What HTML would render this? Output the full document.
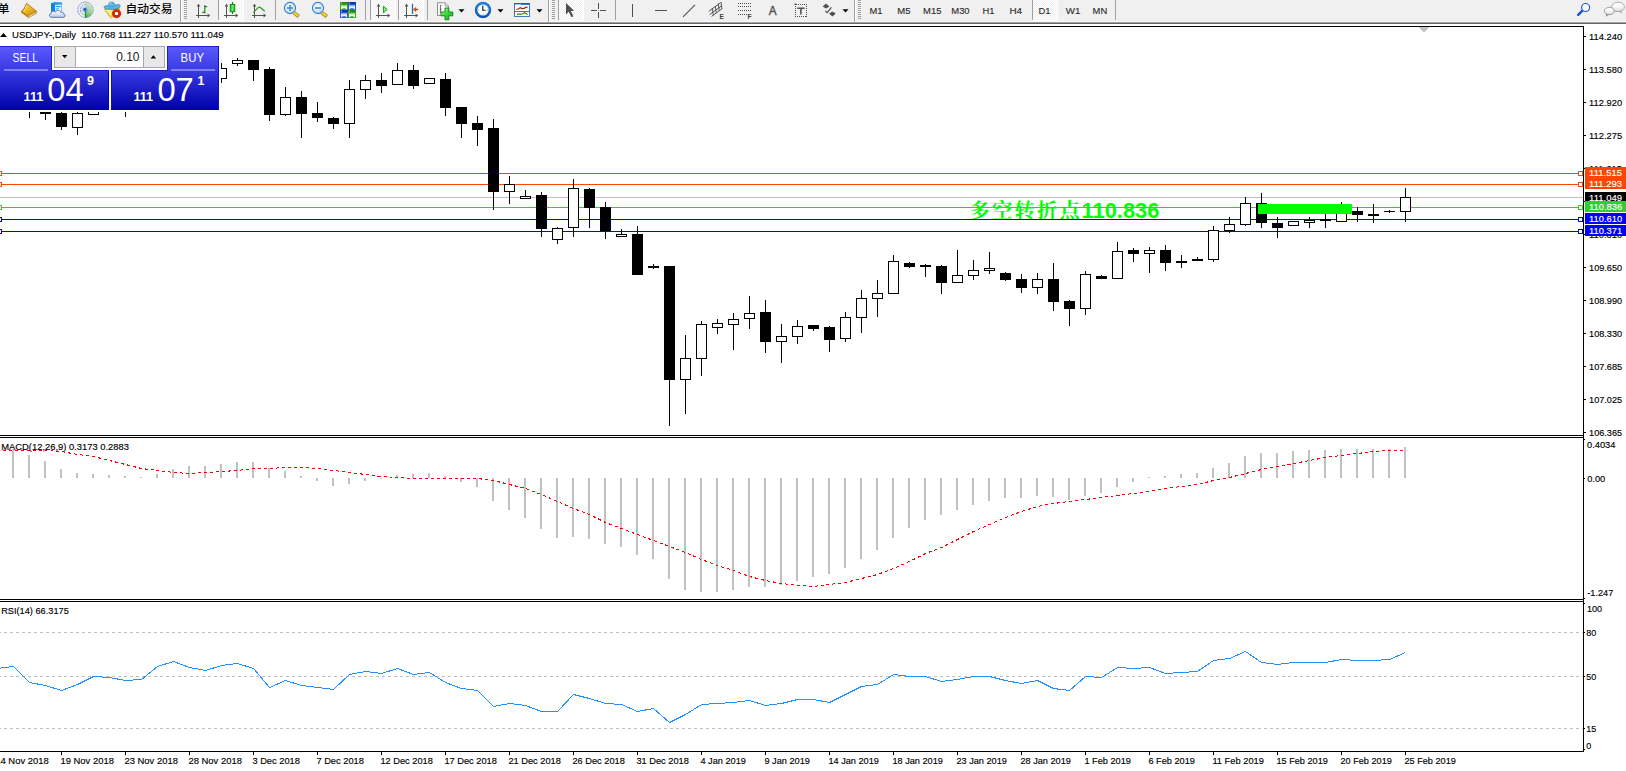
<!DOCTYPE html>
<html lang="zh"><head><meta charset="utf-8"><title>USDJPY Daily</title>
<style>
html,body{margin:0;padding:0;background:#fff;}
body{width:1626px;height:771px;position:relative;overflow:hidden;font-family:"Liberation Sans","Noto Sans CJK SC",sans-serif;}
svg{display:block}
svg text{white-space:pre}
</style></head><body>
<svg id="chart" width="1626" height="771" viewBox="0 0 1626 771" style="position:absolute;left:0;top:0" font-family='"Liberation Sans", sans-serif'>
<g shape-rendering="crispEdges">
<rect x="0" y="26" width="1584" height="1" fill="#000" />
<rect x="1583" y="26" width="1" height="726" fill="#000" />
<rect x="0" y="435" width="1584" height="1" fill="#000" />
<rect x="0" y="437" width="1584" height="1" fill="#000" />
<rect x="0" y="599" width="1584" height="1" fill="#000" />
<rect x="0" y="601" width="1584" height="1" fill="#000" />
<rect x="0" y="751" width="1584" height="1" fill="#000" />
<rect x="1584" y="36" width="2" height="1" fill="#000" />
<rect x="1584" y="69" width="2" height="1" fill="#000" />
<rect x="1584" y="102" width="2" height="1" fill="#000" />
<rect x="1584" y="135" width="2" height="1" fill="#000" />
<rect x="1584" y="168" width="2" height="1" fill="#000" />
<rect x="1584" y="201" width="2" height="1" fill="#000" />
<rect x="1584" y="234" width="2" height="1" fill="#000" />
<rect x="1584" y="267" width="2" height="1" fill="#000" />
<rect x="1584" y="300" width="2" height="1" fill="#000" />
<rect x="1584" y="333" width="2" height="1" fill="#000" />
<rect x="1584" y="366" width="2" height="1" fill="#000" />
<rect x="1584" y="399" width="2" height="1" fill="#000" />
<rect x="1584" y="432" width="2" height="1" fill="#000" />
<rect x="1584" y="439" width="1" height="1" fill="#000" />
<rect x="1584" y="478" width="1" height="1" fill="#000" />
<rect x="1584" y="598" width="1" height="1" fill="#000" />
<rect x="1584" y="603" width="1" height="1" fill="#000" />
<rect x="1584" y="632" width="1" height="1" fill="#000" />
<rect x="1584" y="676" width="1" height="1" fill="#000" />
<rect x="1584" y="728" width="1" height="1" fill="#000" />
<rect x="1584" y="749" width="1" height="1" fill="#000" />
<rect x="61" y="752" width="1" height="3" fill="#000" />
<rect x="125" y="752" width="1" height="3" fill="#000" />
<rect x="189" y="752" width="1" height="3" fill="#000" />
<rect x="253" y="752" width="1" height="3" fill="#000" />
<rect x="317" y="752" width="1" height="3" fill="#000" />
<rect x="381" y="752" width="1" height="3" fill="#000" />
<rect x="445" y="752" width="1" height="3" fill="#000" />
<rect x="509" y="752" width="1" height="3" fill="#000" />
<rect x="573" y="752" width="1" height="3" fill="#000" />
<rect x="637" y="752" width="1" height="3" fill="#000" />
<rect x="701" y="752" width="1" height="3" fill="#000" />
<rect x="765" y="752" width="1" height="3" fill="#000" />
<rect x="829" y="752" width="1" height="3" fill="#000" />
<rect x="893" y="752" width="1" height="3" fill="#000" />
<rect x="957" y="752" width="1" height="3" fill="#000" />
<rect x="1021" y="752" width="1" height="3" fill="#000" />
<rect x="1085" y="752" width="1" height="3" fill="#000" />
<rect x="1149" y="752" width="1" height="3" fill="#000" />
<rect x="1213" y="752" width="1" height="3" fill="#000" />
<rect x="1277" y="752" width="1" height="3" fill="#000" />
<rect x="1341" y="752" width="1" height="3" fill="#000" />
<rect x="1405" y="752" width="1" height="3" fill="#000" />
<polygon points="1418.5,27 1429.5,27 1424,32.5" fill="#c0c0c0" shape-rendering="auto"/>
</g>
<text x="969.5" y="218" fill="#00ff00" font-size="21.3" font-weight="bold"><tspan font-family='"Liberation Serif","Noto Serif CJK SC",serif' font-size="20.4" font-weight="700" textLength="110.5" lengthAdjust="spacing">多空转折点</tspan><tspan x="1081.5" textLength="78" lengthAdjust="spacingAndGlyphs">110.836</tspan></text>
<g shape-rendering="crispEdges">
<rect x="0" y="173" width="1583" height="1" fill="#ff4500" />
<rect x="0" y="184" width="1583" height="1" fill="#ff4500" />
<rect x="0" y="197" width="1583" height="1" fill="#c0c0c0" />
<rect x="0" y="207" width="1583" height="1" fill="#32cd32" />
<rect x="0" y="219" width="1583" height="1" fill="#0000ff" />
<rect x="0" y="231" width="1583" height="1" fill="#0000ff" />
<rect x="29" y="100" width="1" height="18" fill="#000" />
<rect x="24" y="100" width="11" height="5" fill="#000" />
<rect x="45" y="100" width="1" height="20" fill="#000" />
<rect x="40" y="100" width="11" height="14" fill="#000" />
<rect x="61" y="100" width="1" height="30" fill="#000" />
<rect x="56" y="113" width="11" height="14" fill="#000" />
<rect x="77" y="100" width="1" height="35" fill="#000" />
<rect x="72" y="113" width="11" height="15" fill="#000" />
<rect x="73" y="114" width="9" height="13" fill="#fff" />
<rect x="93" y="100" width="1" height="15" fill="#000" />
<rect x="88" y="100" width="11" height="15" fill="#000" />
<rect x="89" y="101" width="9" height="13" fill="#fff" />
<rect x="125" y="100" width="1" height="17" fill="#000" />
<rect x="120" y="100" width="11" height="5" fill="#000" />
<rect x="221" y="63" width="1" height="20" fill="#000" />
<rect x="216" y="68" width="11" height="11" fill="#000" />
<rect x="217" y="69" width="9" height="9" fill="#fff" />
<rect x="237" y="58" width="1" height="8" fill="#000" />
<rect x="232" y="60" width="11" height="4" fill="#000" />
<rect x="233" y="61" width="9" height="2" fill="#fff" />
<rect x="253" y="60" width="1" height="21" fill="#000" />
<rect x="248" y="60" width="11" height="10" fill="#000" />
<rect x="269" y="67" width="1" height="54" fill="#000" />
<rect x="264" y="69" width="11" height="46" fill="#000" />
<rect x="285" y="87" width="1" height="29" fill="#000" />
<rect x="280" y="97" width="11" height="18" fill="#000" />
<rect x="281" y="98" width="9" height="16" fill="#fff" />
<rect x="301" y="91" width="1" height="47" fill="#000" />
<rect x="296" y="97" width="11" height="17" fill="#000" />
<rect x="317" y="102" width="1" height="20" fill="#000" />
<rect x="312" y="113" width="11" height="5" fill="#000" />
<rect x="333" y="117" width="1" height="12" fill="#000" />
<rect x="328" y="118" width="11" height="6" fill="#000" />
<rect x="349" y="80" width="1" height="58" fill="#000" />
<rect x="344" y="89" width="11" height="35" fill="#000" />
<rect x="345" y="90" width="9" height="33" fill="#fff" />
<rect x="365" y="75" width="1" height="24" fill="#000" />
<rect x="360" y="80" width="11" height="10" fill="#000" />
<rect x="361" y="81" width="9" height="8" fill="#fff" />
<rect x="381" y="73" width="1" height="20" fill="#000" />
<rect x="376" y="80" width="11" height="6" fill="#000" />
<rect x="397" y="63" width="1" height="22" fill="#000" />
<rect x="392" y="70" width="11" height="15" fill="#000" />
<rect x="393" y="71" width="9" height="13" fill="#fff" />
<rect x="413" y="65" width="1" height="24" fill="#000" />
<rect x="408" y="70" width="11" height="16" fill="#000" />
<rect x="429" y="78" width="1" height="6" fill="#000" />
<rect x="424" y="78" width="11" height="6" fill="#000" />
<rect x="425" y="79" width="9" height="4" fill="#fff" />
<rect x="445" y="73" width="1" height="43" fill="#000" />
<rect x="440" y="79" width="11" height="29" fill="#000" />
<rect x="461" y="107" width="1" height="31" fill="#000" />
<rect x="456" y="107" width="11" height="17" fill="#000" />
<rect x="477" y="116" width="1" height="30" fill="#000" />
<rect x="472" y="123" width="11" height="7" fill="#000" />
<rect x="493" y="119" width="1" height="91" fill="#000" />
<rect x="488" y="128" width="11" height="64" fill="#000" />
<rect x="509" y="176" width="1" height="28" fill="#000" />
<rect x="504" y="184" width="11" height="8" fill="#000" />
<rect x="505" y="185" width="9" height="6" fill="#fff" />
<rect x="525" y="190" width="1" height="9" fill="#000" />
<rect x="520" y="196" width="11" height="3" fill="#000" />
<rect x="521" y="197" width="9" height="1" fill="#fff" />
<rect x="541" y="192" width="1" height="45" fill="#000" />
<rect x="536" y="195" width="11" height="34" fill="#000" />
<rect x="557" y="227" width="1" height="17" fill="#000" />
<rect x="552" y="228" width="11" height="12" fill="#000" />
<rect x="553" y="229" width="9" height="10" fill="#fff" />
<rect x="573" y="179" width="1" height="58" fill="#000" />
<rect x="568" y="188" width="11" height="40" fill="#000" />
<rect x="569" y="189" width="9" height="38" fill="#fff" />
<rect x="589" y="188" width="1" height="40" fill="#000" />
<rect x="584" y="189" width="11" height="19" fill="#000" />
<rect x="605" y="202" width="1" height="37" fill="#000" />
<rect x="600" y="207" width="11" height="24" fill="#000" />
<rect x="621" y="229" width="1" height="8" fill="#000" />
<rect x="616" y="234" width="11" height="3" fill="#000" />
<rect x="617" y="235" width="9" height="1" fill="#fff" />
<rect x="637" y="226" width="1" height="49" fill="#000" />
<rect x="632" y="234" width="11" height="41" fill="#000" />
<rect x="653" y="264" width="1" height="5" fill="#000" />
<rect x="648" y="266" width="11" height="2" fill="#000" />
<rect x="669" y="266" width="1" height="160" fill="#000" />
<rect x="664" y="266" width="11" height="114" fill="#000" />
<rect x="685" y="335" width="1" height="79" fill="#000" />
<rect x="680" y="358" width="11" height="22" fill="#000" />
<rect x="681" y="359" width="9" height="20" fill="#fff" />
<rect x="701" y="321" width="1" height="55" fill="#000" />
<rect x="696" y="324" width="11" height="35" fill="#000" />
<rect x="697" y="325" width="9" height="33" fill="#fff" />
<rect x="717" y="319" width="1" height="15" fill="#000" />
<rect x="712" y="323" width="11" height="5" fill="#000" />
<rect x="713" y="324" width="9" height="3" fill="#fff" />
<rect x="733" y="313" width="1" height="37" fill="#000" />
<rect x="728" y="319" width="11" height="6" fill="#000" />
<rect x="729" y="320" width="9" height="4" fill="#fff" />
<rect x="749" y="296" width="1" height="33" fill="#000" />
<rect x="744" y="313" width="11" height="6" fill="#000" />
<rect x="745" y="314" width="9" height="4" fill="#fff" />
<rect x="765" y="300" width="1" height="53" fill="#000" />
<rect x="760" y="312" width="11" height="30" fill="#000" />
<rect x="781" y="324" width="1" height="39" fill="#000" />
<rect x="776" y="336" width="11" height="6" fill="#000" />
<rect x="777" y="337" width="9" height="4" fill="#fff" />
<rect x="797" y="320" width="1" height="24" fill="#000" />
<rect x="792" y="326" width="11" height="11" fill="#000" />
<rect x="793" y="327" width="9" height="9" fill="#fff" />
<rect x="813" y="325" width="1" height="6" fill="#000" />
<rect x="808" y="325" width="11" height="4" fill="#000" />
<rect x="829" y="326" width="1" height="26" fill="#000" />
<rect x="824" y="327" width="11" height="13" fill="#000" />
<rect x="845" y="312" width="1" height="30" fill="#000" />
<rect x="840" y="317" width="11" height="22" fill="#000" />
<rect x="841" y="318" width="9" height="20" fill="#fff" />
<rect x="861" y="290" width="1" height="43" fill="#000" />
<rect x="856" y="298" width="11" height="20" fill="#000" />
<rect x="857" y="299" width="9" height="18" fill="#fff" />
<rect x="877" y="280" width="1" height="37" fill="#000" />
<rect x="872" y="293" width="11" height="6" fill="#000" />
<rect x="873" y="294" width="9" height="4" fill="#fff" />
<rect x="893" y="255" width="1" height="39" fill="#000" />
<rect x="888" y="261" width="11" height="33" fill="#000" />
<rect x="889" y="262" width="9" height="31" fill="#fff" />
<rect x="909" y="262" width="1" height="6" fill="#000" />
<rect x="904" y="263" width="11" height="4" fill="#000" />
<rect x="925" y="264" width="1" height="13" fill="#000" />
<rect x="920" y="265" width="11" height="2" fill="#000" />
<rect x="941" y="265" width="1" height="29" fill="#000" />
<rect x="936" y="266" width="11" height="17" fill="#000" />
<rect x="957" y="250" width="1" height="33" fill="#000" />
<rect x="952" y="275" width="11" height="8" fill="#000" />
<rect x="953" y="276" width="9" height="6" fill="#fff" />
<rect x="973" y="260" width="1" height="20" fill="#000" />
<rect x="968" y="270" width="11" height="6" fill="#000" />
<rect x="969" y="271" width="9" height="4" fill="#fff" />
<rect x="989" y="252" width="1" height="22" fill="#000" />
<rect x="984" y="268" width="11" height="3" fill="#000" />
<rect x="985" y="269" width="9" height="1" fill="#fff" />
<rect x="1005" y="272" width="1" height="9" fill="#000" />
<rect x="1000" y="273" width="11" height="7" fill="#000" />
<rect x="1021" y="274" width="1" height="19" fill="#000" />
<rect x="1016" y="279" width="11" height="9" fill="#000" />
<rect x="1037" y="273" width="1" height="21" fill="#000" />
<rect x="1032" y="279" width="11" height="9" fill="#000" />
<rect x="1033" y="280" width="9" height="7" fill="#fff" />
<rect x="1053" y="263" width="1" height="48" fill="#000" />
<rect x="1048" y="279" width="11" height="23" fill="#000" />
<rect x="1069" y="300" width="1" height="26" fill="#000" />
<rect x="1064" y="301" width="11" height="8" fill="#000" />
<rect x="1085" y="271" width="1" height="44" fill="#000" />
<rect x="1080" y="274" width="11" height="35" fill="#000" />
<rect x="1081" y="275" width="9" height="33" fill="#fff" />
<rect x="1101" y="275" width="1" height="4" fill="#000" />
<rect x="1096" y="276" width="11" height="3" fill="#000" />
<rect x="1117" y="242" width="1" height="37" fill="#000" />
<rect x="1112" y="251" width="11" height="28" fill="#000" />
<rect x="1113" y="252" width="9" height="26" fill="#fff" />
<rect x="1133" y="248" width="1" height="14" fill="#000" />
<rect x="1128" y="250" width="11" height="4" fill="#000" />
<rect x="1149" y="247" width="1" height="26" fill="#000" />
<rect x="1144" y="250" width="11" height="4" fill="#000" />
<rect x="1145" y="251" width="9" height="2" fill="#fff" />
<rect x="1165" y="245" width="1" height="26" fill="#000" />
<rect x="1160" y="250" width="11" height="13" fill="#000" />
<rect x="1181" y="255" width="1" height="13" fill="#000" />
<rect x="1176" y="261" width="11" height="2" fill="#000" />
<rect x="1197" y="257" width="1" height="4" fill="#000" />
<rect x="1192" y="259" width="11" height="2" fill="#000" />
<rect x="1213" y="226" width="1" height="36" fill="#000" />
<rect x="1208" y="230" width="11" height="30" fill="#000" />
<rect x="1209" y="231" width="9" height="28" fill="#fff" />
<rect x="1229" y="217" width="1" height="16" fill="#000" />
<rect x="1224" y="224" width="11" height="7" fill="#000" />
<rect x="1225" y="225" width="9" height="5" fill="#fff" />
<rect x="1245" y="197" width="1" height="29" fill="#000" />
<rect x="1240" y="203" width="11" height="22" fill="#000" />
<rect x="1241" y="204" width="9" height="20" fill="#fff" />
<rect x="1261" y="193" width="1" height="35" fill="#000" />
<rect x="1256" y="203" width="11" height="20" fill="#000" />
<rect x="1277" y="217" width="1" height="21" fill="#000" />
<rect x="1272" y="223" width="11" height="5" fill="#000" />
<rect x="1293" y="221" width="1" height="5" fill="#000" />
<rect x="1288" y="221" width="11" height="5" fill="#000" />
<rect x="1289" y="222" width="9" height="3" fill="#fff" />
<rect x="1309" y="217" width="1" height="11" fill="#000" />
<rect x="1304" y="220" width="11" height="3" fill="#000" />
<rect x="1305" y="221" width="9" height="1" fill="#fff" />
<rect x="1325" y="208" width="1" height="20" fill="#000" />
<rect x="1320" y="219" width="11" height="2" fill="#000" />
<rect x="1341" y="202" width="1" height="20" fill="#000" />
<rect x="1336" y="205" width="11" height="17" fill="#000" />
<rect x="1337" y="206" width="9" height="15" fill="#fff" />
<rect x="1357" y="207" width="1" height="15" fill="#000" />
<rect x="1352" y="211" width="11" height="4" fill="#000" />
<rect x="1373" y="204" width="1" height="19" fill="#000" />
<rect x="1368" y="214" width="11" height="2" fill="#000" />
<rect x="1389" y="210" width="1" height="3" fill="#000" />
<rect x="1384" y="211" width="11" height="1" fill="#000" />
<rect x="1405" y="188" width="1" height="34" fill="#000" />
<rect x="1400" y="197" width="11" height="15" fill="#000" />
<rect x="1401" y="198" width="9" height="13" fill="#fff" />
<rect x="1258" y="204" width="94" height="10" fill="#00ff00" />
<rect x="1578.5" y="171.5" width="4" height="4" fill="#fff" stroke="#ff4500" stroke-width="1"/>
<rect x="-2.5" y="171.5" width="4" height="4" fill="#fff" stroke="#ff4500" stroke-width="1"/>
<rect x="1578.5" y="182.5" width="4" height="4" fill="#fff" stroke="#ff4500" stroke-width="1"/>
<rect x="-2.5" y="182.5" width="4" height="4" fill="#fff" stroke="#ff4500" stroke-width="1"/>
<rect x="1578.5" y="205.5" width="4" height="4" fill="#fff" stroke="#32cd32" stroke-width="1"/>
<rect x="-2.5" y="205.5" width="4" height="4" fill="#fff" stroke="#32cd32" stroke-width="1"/>
<rect x="1578.5" y="217.5" width="4" height="4" fill="#fff" stroke="#0000ff" stroke-width="1"/>
<rect x="-2.5" y="217.5" width="4" height="4" fill="#fff" stroke="#0000ff" stroke-width="1"/>
<rect x="1578.5" y="229.5" width="4" height="4" fill="#fff" stroke="#0000ff" stroke-width="1"/>
<rect x="-2.5" y="229.5" width="4" height="4" fill="#fff" stroke="#0000ff" stroke-width="1"/>
<rect x="12" y="449" width="2" height="29" fill="#c0c0c0" />
<rect x="28" y="455" width="2" height="23" fill="#c0c0c0" />
<rect x="44" y="461" width="2" height="17" fill="#c0c0c0" />
<rect x="60" y="469" width="2" height="9" fill="#c0c0c0" />
<rect x="76" y="473" width="2" height="5" fill="#c0c0c0" />
<rect x="92" y="474" width="2" height="4" fill="#c0c0c0" />
<rect x="108" y="475" width="2" height="3" fill="#c0c0c0" />
<rect x="124" y="476" width="2" height="2" fill="#c0c0c0" />
<rect x="140" y="477" width="2" height="1" fill="#c0c0c0" />
<rect x="156" y="474" width="2" height="4" fill="#c0c0c0" />
<rect x="172" y="469" width="2" height="9" fill="#c0c0c0" />
<rect x="188" y="466" width="2" height="12" fill="#c0c0c0" />
<rect x="204" y="466" width="2" height="12" fill="#c0c0c0" />
<rect x="220" y="464" width="2" height="14" fill="#c0c0c0" />
<rect x="236" y="462" width="2" height="16" fill="#c0c0c0" />
<rect x="252" y="462" width="2" height="16" fill="#c0c0c0" />
<rect x="268" y="468" width="2" height="10" fill="#c0c0c0" />
<rect x="284" y="471" width="2" height="7" fill="#c0c0c0" />
<rect x="300" y="476" width="2" height="2" fill="#c0c0c0" />
<rect x="316" y="478" width="2" height="3" fill="#c0c0c0" />
<rect x="332" y="478" width="2" height="8" fill="#c0c0c0" />
<rect x="348" y="478" width="2" height="6" fill="#c0c0c0" />
<rect x="364" y="478" width="2" height="3" fill="#c0c0c0" />
<rect x="380" y="478" width="2" height="1" fill="#c0c0c0" />
<rect x="396" y="475" width="2" height="3" fill="#c0c0c0" />
<rect x="412" y="474" width="2" height="4" fill="#c0c0c0" />
<rect x="428" y="473" width="2" height="5" fill="#c0c0c0" />
<rect x="444" y="476" width="2" height="2" fill="#c0c0c0" />
<rect x="460" y="478" width="2" height="4" fill="#c0c0c0" />
<rect x="476" y="478" width="2" height="9" fill="#c0c0c0" />
<rect x="492" y="478" width="2" height="23" fill="#c0c0c0" />
<rect x="508" y="478" width="2" height="32" fill="#c0c0c0" />
<rect x="524" y="478" width="2" height="40" fill="#c0c0c0" />
<rect x="540" y="478" width="2" height="51" fill="#c0c0c0" />
<rect x="556" y="478" width="2" height="60" fill="#c0c0c0" />
<rect x="572" y="478" width="2" height="59" fill="#c0c0c0" />
<rect x="588" y="478" width="2" height="61" fill="#c0c0c0" />
<rect x="604" y="478" width="2" height="66" fill="#c0c0c0" />
<rect x="620" y="478" width="2" height="69" fill="#c0c0c0" />
<rect x="636" y="478" width="2" height="77" fill="#c0c0c0" />
<rect x="652" y="478" width="2" height="81" fill="#c0c0c0" />
<rect x="668" y="478" width="2" height="101" fill="#c0c0c0" />
<rect x="684" y="478" width="2" height="112" fill="#c0c0c0" />
<rect x="700" y="478" width="2" height="114" fill="#c0c0c0" />
<rect x="716" y="478" width="2" height="114" fill="#c0c0c0" />
<rect x="732" y="478" width="2" height="112" fill="#c0c0c0" />
<rect x="748" y="478" width="2" height="109" fill="#c0c0c0" />
<rect x="764" y="478" width="2" height="109" fill="#c0c0c0" />
<rect x="780" y="478" width="2" height="107" fill="#c0c0c0" />
<rect x="796" y="478" width="2" height="103" fill="#c0c0c0" />
<rect x="812" y="478" width="2" height="99" fill="#c0c0c0" />
<rect x="828" y="478" width="2" height="96" fill="#c0c0c0" />
<rect x="844" y="478" width="2" height="90" fill="#c0c0c0" />
<rect x="860" y="478" width="2" height="81" fill="#c0c0c0" />
<rect x="876" y="478" width="2" height="72" fill="#c0c0c0" />
<rect x="892" y="478" width="2" height="60" fill="#c0c0c0" />
<rect x="908" y="478" width="2" height="50" fill="#c0c0c0" />
<rect x="924" y="478" width="2" height="42" fill="#c0c0c0" />
<rect x="940" y="478" width="2" height="37" fill="#c0c0c0" />
<rect x="956" y="478" width="2" height="32" fill="#c0c0c0" />
<rect x="972" y="478" width="2" height="27" fill="#c0c0c0" />
<rect x="988" y="478" width="2" height="23" fill="#c0c0c0" />
<rect x="1004" y="478" width="2" height="20" fill="#c0c0c0" />
<rect x="1020" y="478" width="2" height="20" fill="#c0c0c0" />
<rect x="1036" y="478" width="2" height="18" fill="#c0c0c0" />
<rect x="1052" y="478" width="2" height="19" fill="#c0c0c0" />
<rect x="1068" y="478" width="2" height="22" fill="#c0c0c0" />
<rect x="1084" y="478" width="2" height="18" fill="#c0c0c0" />
<rect x="1100" y="478" width="2" height="15" fill="#c0c0c0" />
<rect x="1116" y="478" width="2" height="9" fill="#c0c0c0" />
<rect x="1132" y="478" width="2" height="4" fill="#c0c0c0" />
<rect x="1148" y="477" width="2" height="1" fill="#c0c0c0" />
<rect x="1164" y="476" width="2" height="2" fill="#c0c0c0" />
<rect x="1180" y="474" width="2" height="4" fill="#c0c0c0" />
<rect x="1196" y="473" width="2" height="5" fill="#c0c0c0" />
<rect x="1212" y="468" width="2" height="10" fill="#c0c0c0" />
<rect x="1228" y="463" width="2" height="15" fill="#c0c0c0" />
<rect x="1244" y="456" width="2" height="22" fill="#c0c0c0" />
<rect x="1260" y="453" width="2" height="25" fill="#c0c0c0" />
<rect x="1276" y="453" width="2" height="25" fill="#c0c0c0" />
<rect x="1292" y="451" width="2" height="27" fill="#c0c0c0" />
<rect x="1308" y="450" width="2" height="28" fill="#c0c0c0" />
<rect x="1324" y="450" width="2" height="28" fill="#c0c0c0" />
<rect x="1340" y="449" width="2" height="29" fill="#c0c0c0" />
<rect x="1356" y="449" width="2" height="29" fill="#c0c0c0" />
<rect x="1372" y="449" width="2" height="29" fill="#c0c0c0" />
<rect x="1388" y="449" width="2" height="29" fill="#c0c0c0" />
<rect x="1404" y="447" width="2" height="31" fill="#c0c0c0" />
</g>
<line x1="0" y1="632.5" x2="1583" y2="632.5" stroke="#c0c0c0" stroke-width="1" stroke-dasharray="3 3" stroke-dashoffset="2" shape-rendering="crispEdges"/>
<line x1="0" y1="676.5" x2="1583" y2="676.5" stroke="#c0c0c0" stroke-width="1" stroke-dasharray="3 3" stroke-dashoffset="2" shape-rendering="crispEdges"/>
<line x1="0" y1="728.5" x2="1583" y2="728.5" stroke="#c0c0c0" stroke-width="1" stroke-dasharray="3 3" stroke-dashoffset="2" shape-rendering="crispEdges"/>
<polyline points="-3.5,450.5 13.5,450.5 29.5,450.5 45.5,450.5 61.5,451.5 77.5,454.5 93.5,456.5 109.5,460.5 125.5,464.5 141.5,468.5 157.5,470.5 173.5,472.5 189.5,473.5 205.5,472.5 221.5,471.5 237.5,470.5 253.5,468.5 269.5,468.5 285.5,467.5 301.5,467.5 317.5,468.5 333.5,470.5 349.5,472.5 365.5,474.5 381.5,476.5 397.5,477.5 413.5,478.5 429.5,478.5 445.5,478.5 461.5,478.5 477.5,478.5 493.5,480.5 509.5,484.5 525.5,488.5 541.5,494.5 557.5,501.5 573.5,508.5 589.5,514.5 605.5,522.5 621.5,528.5 637.5,534.5 653.5,540.5 669.5,546.5 685.5,552.5 701.5,559.5 717.5,565.5 733.5,570.5 749.5,576.5 765.5,580.5 781.5,583.5 797.5,585.5 813.5,586.5 829.5,584.5 845.5,582.5 861.5,578.5 877.5,574.5 893.5,568.5 909.5,561.5 925.5,553.5 941.5,547.5 957.5,539.5 973.5,531.5 989.5,524.5 1005.5,517.5 1021.5,511.5 1037.5,506.5 1053.5,503.5 1069.5,501.5 1085.5,499.5 1101.5,497.5 1117.5,495.5 1133.5,493.5 1149.5,491.5 1165.5,488.5 1181.5,486.5 1197.5,484.5 1213.5,480.5 1229.5,477.5 1245.5,473.5 1261.5,469.5 1277.5,466.5 1293.5,463.5 1309.5,460.5 1325.5,457.5 1341.5,455.5 1357.5,453.5 1373.5,451.5 1389.5,450.5 1405.5,450.5" fill="none" stroke="#ff0000" stroke-width="1" stroke-dasharray="3 3" shape-rendering="crispEdges"/>
<polyline points="-3.5,668.5 13.5,666.5 29.5,682.5 45.5,685.5 61.5,690.5 77.5,684.5 93.5,676.5 109.5,677.5 125.5,680.5 141.5,679.5 157.5,666.5 173.5,661.5 189.5,667.5 205.5,670.5 221.5,665.5 237.5,663.5 253.5,668.5 269.5,687.5 285.5,680.5 301.5,685.5 317.5,687.5 333.5,689.5 349.5,674.5 365.5,671.5 381.5,673.5 397.5,668.5 413.5,674.5 429.5,672.5 445.5,682.5 461.5,688.5 477.5,690.5 493.5,706.5 509.5,703.5 525.5,705.5 541.5,711.5 557.5,711.5 573.5,694.5 589.5,698.5 605.5,703.5 621.5,704.5 637.5,711.5 653.5,708.5 669.5,722.5 685.5,714.5 701.5,704.5 717.5,703.5 733.5,702.5 749.5,700.5 765.5,705.5 781.5,703.5 797.5,699.5 813.5,699.5 829.5,702.5 845.5,694.5 861.5,686.5 877.5,684.5 893.5,674.5 909.5,676.5 925.5,676.5 941.5,681.5 957.5,679.5 973.5,676.5 989.5,676.5 1005.5,680.5 1021.5,683.5 1037.5,680.5 1053.5,688.5 1069.5,690.5 1085.5,676.5 1101.5,677.5 1117.5,667.5 1133.5,668.5 1149.5,667.5 1165.5,673.5 1181.5,672.5 1197.5,671.5 1213.5,660.5 1229.5,658.5 1245.5,651.5 1261.5,662.5 1277.5,664.5 1293.5,662.5 1309.5,662.5 1325.5,662.5 1341.5,659.5 1357.5,660.5 1373.5,660.5 1389.5,659.5 1405.5,652.5" fill="none" stroke="#1e90ff" stroke-width="1" shape-rendering="crispEdges"/>
<text x="12" y="38" fill="#000" stroke="#000" stroke-width="0.15" font-size="9.8" textLength="211.6" lengthAdjust="spacingAndGlyphs" text-anchor="start" >USDJPY-,Daily&#160;&#160;110.768 111.227 110.570 111.049</text>
<polygon points="0,37 3.5,33 7,37" fill="#000"/>
<text x="1589.1" y="40" fill="#000" stroke="#000" stroke-width="0.15" font-size="9.8" textLength="33" lengthAdjust="spacingAndGlyphs" text-anchor="start" >114.240</text>
<text x="1589.1" y="73" fill="#000" stroke="#000" stroke-width="0.15" font-size="9.8" textLength="33" lengthAdjust="spacingAndGlyphs" text-anchor="start" >113.580</text>
<text x="1589.1" y="106" fill="#000" stroke="#000" stroke-width="0.15" font-size="9.8" textLength="33" lengthAdjust="spacingAndGlyphs" text-anchor="start" >112.920</text>
<text x="1589.1" y="139" fill="#000" stroke="#000" stroke-width="0.15" font-size="9.8" textLength="33" lengthAdjust="spacingAndGlyphs" text-anchor="start" >112.275</text>
<text x="1589.1" y="172" fill="#000" stroke="#000" stroke-width="0.15" font-size="9.8" textLength="33" lengthAdjust="spacingAndGlyphs" text-anchor="start" >111.615</text>
<text x="1589.1" y="205" fill="#000" stroke="#000" stroke-width="0.15" font-size="9.8" textLength="33" lengthAdjust="spacingAndGlyphs" text-anchor="start" >110.955</text>
<text x="1589.1" y="238" fill="#000" stroke="#000" stroke-width="0.15" font-size="9.8" textLength="33" lengthAdjust="spacingAndGlyphs" text-anchor="start" >110.310</text>
<text x="1589.1" y="271" fill="#000" stroke="#000" stroke-width="0.15" font-size="9.8" textLength="33" lengthAdjust="spacingAndGlyphs" text-anchor="start" >109.650</text>
<text x="1589.1" y="304" fill="#000" stroke="#000" stroke-width="0.15" font-size="9.8" textLength="33" lengthAdjust="spacingAndGlyphs" text-anchor="start" >108.990</text>
<text x="1589.1" y="337" fill="#000" stroke="#000" stroke-width="0.15" font-size="9.8" textLength="33" lengthAdjust="spacingAndGlyphs" text-anchor="start" >108.330</text>
<text x="1589.1" y="370" fill="#000" stroke="#000" stroke-width="0.15" font-size="9.8" textLength="33" lengthAdjust="spacingAndGlyphs" text-anchor="start" >107.685</text>
<text x="1589.1" y="403" fill="#000" stroke="#000" stroke-width="0.15" font-size="9.8" textLength="33" lengthAdjust="spacingAndGlyphs" text-anchor="start" >107.025</text>
<text x="1589.1" y="436" fill="#000" stroke="#000" stroke-width="0.15" font-size="9.8" textLength="33" lengthAdjust="spacingAndGlyphs" text-anchor="start" >106.365</text>
<rect x="1585" y="192" width="41" height="11" fill="#000" shape-rendering="crispEdges"/>
<text x="1589.1" y="201" fill="#fff" stroke="#fff" stroke-width="0.15" font-size="9.8" textLength="33" lengthAdjust="spacingAndGlyphs" text-anchor="start" >111.049</text>
<rect x="1585" y="167" width="41" height="11" fill="#ff4500" shape-rendering="crispEdges"/>
<text x="1589.1" y="176" fill="#fff" stroke="#fff" stroke-width="0.15" font-size="9.8" textLength="33" lengthAdjust="spacingAndGlyphs" text-anchor="start" >111.515</text>
<rect x="1585" y="178" width="41" height="11" fill="#ff4500" shape-rendering="crispEdges"/>
<text x="1589.1" y="187" fill="#fff" stroke="#fff" stroke-width="0.15" font-size="9.8" textLength="33" lengthAdjust="spacingAndGlyphs" text-anchor="start" >111.293</text>
<rect x="1585" y="201" width="41" height="11" fill="#32cd32" shape-rendering="crispEdges"/>
<text x="1589.1" y="210" fill="#fff" stroke="#fff" stroke-width="0.15" font-size="9.8" textLength="33" lengthAdjust="spacingAndGlyphs" text-anchor="start" >110.836</text>
<rect x="1585" y="213" width="41" height="11" fill="#0000ff" shape-rendering="crispEdges"/>
<text x="1589.1" y="222" fill="#fff" stroke="#fff" stroke-width="0.15" font-size="9.8" textLength="33" lengthAdjust="spacingAndGlyphs" text-anchor="start" >110.610</text>
<rect x="1585" y="225" width="41" height="11" fill="#0000ff" shape-rendering="crispEdges"/>
<text x="1589.1" y="234" fill="#fff" stroke="#fff" stroke-width="0.15" font-size="9.8" textLength="33" lengthAdjust="spacingAndGlyphs" text-anchor="start" >110.371</text>
<text x="1587" y="448" fill="#000" stroke="#000" stroke-width="0.15" font-size="9.8" textLength="28.4" lengthAdjust="spacingAndGlyphs" text-anchor="start" >0.4034</text>
<text x="1587.2" y="482" fill="#000" stroke="#000" stroke-width="0.15" font-size="9.8" textLength="18" lengthAdjust="spacingAndGlyphs" text-anchor="start" >0.00</text>
<text x="1587.3" y="596" fill="#000" stroke="#000" stroke-width="0.15" font-size="9.8" textLength="26" lengthAdjust="spacingAndGlyphs" text-anchor="start" >-1.247</text>
<text x="1587" y="612" fill="#000" stroke="#000" stroke-width="0.15" font-size="9.8" textLength="15.2" lengthAdjust="spacingAndGlyphs" text-anchor="start" >100</text>
<text x="1586.3" y="636" fill="#000" stroke="#000" stroke-width="0.15" font-size="9.8" textLength="10" lengthAdjust="spacingAndGlyphs" text-anchor="start" >80</text>
<text x="1586.3" y="680" fill="#000" stroke="#000" stroke-width="0.15" font-size="9.8" textLength="10" lengthAdjust="spacingAndGlyphs" text-anchor="start" >50</text>
<text x="1586.3" y="732" fill="#000" stroke="#000" stroke-width="0.15" font-size="9.8" textLength="10" lengthAdjust="spacingAndGlyphs" text-anchor="start" >15</text>
<text x="1586.3" y="749" fill="#000" stroke="#000" stroke-width="0.15" font-size="9.8" textLength="5" lengthAdjust="spacingAndGlyphs" text-anchor="start" >0</text>
<text x="1.2" y="450" fill="#000" stroke="#000" stroke-width="0.15" font-size="9.8" textLength="127.8" lengthAdjust="spacingAndGlyphs" text-anchor="start" >MACD(12,26,9) 0.3173 0.2883</text>
<text x="1.2" y="614" fill="#000" stroke="#000" stroke-width="0.15" font-size="9.8" textLength="67.6" lengthAdjust="spacingAndGlyphs" text-anchor="start" >RSI(14) 66.3175</text>
<text x="-4.8" y="764" fill="#000" stroke="#000" stroke-width="0.15" font-size="9.8" textLength="53.5" lengthAdjust="spacingAndGlyphs" text-anchor="start" >14 Nov 2018</text>
<text x="60.4" y="764" fill="#000" stroke="#000" stroke-width="0.15" font-size="9.8" textLength="53.5" lengthAdjust="spacingAndGlyphs" text-anchor="start" >19 Nov 2018</text>
<text x="124.4" y="764" fill="#000" stroke="#000" stroke-width="0.15" font-size="9.8" textLength="53.5" lengthAdjust="spacingAndGlyphs" text-anchor="start" >23 Nov 2018</text>
<text x="188.4" y="764" fill="#000" stroke="#000" stroke-width="0.15" font-size="9.8" textLength="53.5" lengthAdjust="spacingAndGlyphs" text-anchor="start" >28 Nov 2018</text>
<text x="252.4" y="764" fill="#000" stroke="#000" stroke-width="0.15" font-size="9.8" textLength="47.5" lengthAdjust="spacingAndGlyphs" text-anchor="start" >3 Dec 2018</text>
<text x="316.4" y="764" fill="#000" stroke="#000" stroke-width="0.15" font-size="9.8" textLength="47.5" lengthAdjust="spacingAndGlyphs" text-anchor="start" >7 Dec 2018</text>
<text x="380.4" y="764" fill="#000" stroke="#000" stroke-width="0.15" font-size="9.8" textLength="52.5" lengthAdjust="spacingAndGlyphs" text-anchor="start" >12 Dec 2018</text>
<text x="444.4" y="764" fill="#000" stroke="#000" stroke-width="0.15" font-size="9.8" textLength="52.5" lengthAdjust="spacingAndGlyphs" text-anchor="start" >17 Dec 2018</text>
<text x="508.4" y="764" fill="#000" stroke="#000" stroke-width="0.15" font-size="9.8" textLength="52.5" lengthAdjust="spacingAndGlyphs" text-anchor="start" >21 Dec 2018</text>
<text x="572.4" y="764" fill="#000" stroke="#000" stroke-width="0.15" font-size="9.8" textLength="52.5" lengthAdjust="spacingAndGlyphs" text-anchor="start" >26 Dec 2018</text>
<text x="636.4" y="764" fill="#000" stroke="#000" stroke-width="0.15" font-size="9.8" textLength="52.5" lengthAdjust="spacingAndGlyphs" text-anchor="start" >31 Dec 2018</text>
<text x="700.4" y="764" fill="#000" stroke="#000" stroke-width="0.15" font-size="9.8" textLength="45.5" lengthAdjust="spacingAndGlyphs" text-anchor="start" >4 Jan 2019</text>
<text x="764.4" y="764" fill="#000" stroke="#000" stroke-width="0.15" font-size="9.8" textLength="45.5" lengthAdjust="spacingAndGlyphs" text-anchor="start" >9 Jan 2019</text>
<text x="828.4" y="764" fill="#000" stroke="#000" stroke-width="0.15" font-size="9.8" textLength="50.5" lengthAdjust="spacingAndGlyphs" text-anchor="start" >14 Jan 2019</text>
<text x="892.4" y="764" fill="#000" stroke="#000" stroke-width="0.15" font-size="9.8" textLength="50.5" lengthAdjust="spacingAndGlyphs" text-anchor="start" >18 Jan 2019</text>
<text x="956.4" y="764" fill="#000" stroke="#000" stroke-width="0.15" font-size="9.8" textLength="50.5" lengthAdjust="spacingAndGlyphs" text-anchor="start" >23 Jan 2019</text>
<text x="1020.4" y="764" fill="#000" stroke="#000" stroke-width="0.15" font-size="9.8" textLength="50.5" lengthAdjust="spacingAndGlyphs" text-anchor="start" >28 Jan 2019</text>
<text x="1084.4" y="764" fill="#000" stroke="#000" stroke-width="0.15" font-size="9.8" textLength="46.5" lengthAdjust="spacingAndGlyphs" text-anchor="start" >1 Feb 2019</text>
<text x="1148.4" y="764" fill="#000" stroke="#000" stroke-width="0.15" font-size="9.8" textLength="46.5" lengthAdjust="spacingAndGlyphs" text-anchor="start" >6 Feb 2019</text>
<text x="1212.4" y="764" fill="#000" stroke="#000" stroke-width="0.15" font-size="9.8" textLength="51.5" lengthAdjust="spacingAndGlyphs" text-anchor="start" >11 Feb 2019</text>
<text x="1276.4" y="764" fill="#000" stroke="#000" stroke-width="0.15" font-size="9.8" textLength="51.5" lengthAdjust="spacingAndGlyphs" text-anchor="start" >15 Feb 2019</text>
<text x="1340.4" y="764" fill="#000" stroke="#000" stroke-width="0.15" font-size="9.8" textLength="51.5" lengthAdjust="spacingAndGlyphs" text-anchor="start" >20 Feb 2019</text>
<text x="1404.4" y="764" fill="#000" stroke="#000" stroke-width="0.15" font-size="9.8" textLength="51.5" lengthAdjust="spacingAndGlyphs" text-anchor="start" >25 Feb 2019</text>
</svg>
<svg id="tb" width="1626" height="26" viewBox="0 0 1626 26" style="position:absolute;left:0;top:0" font-family='"Liberation Sans", sans-serif'>
<defs>
<linearGradient id="gGold" x1="0" y1="0" x2="1" y2="1"><stop offset="0" stop-color="#fbe66a"/><stop offset="0.5" stop-color="#e9b61f"/><stop offset="1" stop-color="#c8860f"/></linearGradient>
<linearGradient id="gCloud" x1="0" y1="0" x2="0" y2="1"><stop offset="0" stop-color="#ffffff"/><stop offset="1" stop-color="#b9c9e6"/></linearGradient>
<linearGradient id="gCandle" x1="0" y1="0" x2="1" y2="0"><stop offset="0" stop-color="#18b018"/><stop offset="0.5" stop-color="#6cf06c"/><stop offset="1" stop-color="#18b018"/></linearGradient>
<radialGradient id="gLens" cx="0.4" cy="0.35" r="0.7"><stop offset="0" stop-color="#f4fcff"/><stop offset="1" stop-color="#b4dcf4"/></radialGradient>
<linearGradient id="gClock" x1="0" y1="0" x2="0" y2="1"><stop offset="0" stop-color="#2a8cf0"/><stop offset="1" stop-color="#0b4fb0"/></linearGradient>
<linearGradient id="gBub" x1="0" y1="0" x2="0" y2="1"><stop offset="0" stop-color="#ffffff"/><stop offset="0.45" stop-color="#fafafa"/><stop offset="1" stop-color="#d6d6e0"/></linearGradient>
<linearGradient id="gPlus" x1="0" y1="0" x2="1" y2="1"><stop offset="0" stop-color="#b0ffb0"/><stop offset="0.5" stop-color="#38d838"/><stop offset="1" stop-color="#14a814"/></linearGradient>
<linearGradient id="gHandle" x1="0" y1="0" x2="1" y2="0"><stop offset="0" stop-color="#f8e060"/><stop offset="1" stop-color="#c89010"/></linearGradient>
<pattern id="dither" width="2" height="2" patternUnits="userSpaceOnUse"><rect width="2" height="2" fill="#f0f0f0"/><rect width="1" height="1" fill="#fff"/><rect x="1" y="1" width="1" height="1" fill="#fff"/></pattern>
<linearGradient id="gSig" x1="0.2" y1="1" x2="0.5" y2="0"><stop offset="0" stop-color="#3aa83a" stop-opacity="0.95"/><stop offset="0.5" stop-color="#8cc88c" stop-opacity="0.7"/><stop offset="1" stop-color="#d8ead8" stop-opacity="0.5"/></linearGradient>
</defs>
<g shape-rendering="crispEdges">
<rect x="0" y="0" width="1626" height="22" fill="#f0f0f0"/>
<rect x="0" y="21" width="1626" height="1" fill="#f8f8f8"/>
<rect x="0" y="22" width="1626" height="1" fill="#a0a0a0"/>
<rect x="0" y="23" width="1626" height="1" fill="#696969"/>
<rect x="0" y="24" width="1626" height="2" fill="#fff"/>
<rect x="180" y="0" width="1" height="22" fill="#a0a0a0"/><rect x="181" y="0" width="1" height="22" fill="#fff"/>
<rect x="184" y="0" width="3" height="1" fill="#a0a0a0"/>
<rect x="184" y="2" width="3" height="1" fill="#a0a0a0"/>
<rect x="184" y="4" width="3" height="1" fill="#a0a0a0"/>
<rect x="184" y="6" width="3" height="1" fill="#a0a0a0"/>
<rect x="184" y="8" width="3" height="1" fill="#a0a0a0"/>
<rect x="184" y="10" width="3" height="1" fill="#a0a0a0"/>
<rect x="184" y="12" width="3" height="1" fill="#a0a0a0"/>
<rect x="184" y="14" width="3" height="1" fill="#a0a0a0"/>
<rect x="184" y="16" width="3" height="1" fill="#a0a0a0"/>
<rect x="184" y="18" width="3" height="1" fill="#a0a0a0"/>
<rect x="548" y="0" width="1" height="22" fill="#a0a0a0"/><rect x="549" y="0" width="1" height="22" fill="#fff"/>
<rect x="552" y="0" width="3" height="1" fill="#a0a0a0"/>
<rect x="552" y="2" width="3" height="1" fill="#a0a0a0"/>
<rect x="552" y="4" width="3" height="1" fill="#a0a0a0"/>
<rect x="552" y="6" width="3" height="1" fill="#a0a0a0"/>
<rect x="552" y="8" width="3" height="1" fill="#a0a0a0"/>
<rect x="552" y="10" width="3" height="1" fill="#a0a0a0"/>
<rect x="552" y="12" width="3" height="1" fill="#a0a0a0"/>
<rect x="552" y="14" width="3" height="1" fill="#a0a0a0"/>
<rect x="552" y="16" width="3" height="1" fill="#a0a0a0"/>
<rect x="552" y="18" width="3" height="1" fill="#a0a0a0"/>
<rect x="854" y="0" width="1" height="22" fill="#a0a0a0"/><rect x="855" y="0" width="1" height="22" fill="#fff"/>
<rect x="858" y="0" width="3" height="1" fill="#a0a0a0"/>
<rect x="858" y="2" width="3" height="1" fill="#a0a0a0"/>
<rect x="858" y="4" width="3" height="1" fill="#a0a0a0"/>
<rect x="858" y="6" width="3" height="1" fill="#a0a0a0"/>
<rect x="858" y="8" width="3" height="1" fill="#a0a0a0"/>
<rect x="858" y="10" width="3" height="1" fill="#a0a0a0"/>
<rect x="858" y="12" width="3" height="1" fill="#a0a0a0"/>
<rect x="858" y="14" width="3" height="1" fill="#a0a0a0"/>
<rect x="858" y="16" width="3" height="1" fill="#a0a0a0"/>
<rect x="858" y="18" width="3" height="1" fill="#a0a0a0"/>
<rect x="219" y="0" width="24" height="20" fill="url(#dither)"/>
<rect x="243" y="0" width="1" height="21" fill="#fff"/><rect x="218" y="20" width="26" height="1" fill="#fff"/>
<rect x="371" y="0" width="24" height="20" fill="url(#dither)"/>
<rect x="395" y="0" width="1" height="21" fill="#fff"/><rect x="370" y="20" width="26" height="1" fill="#fff"/>
<rect x="399" y="0" width="24" height="20" fill="url(#dither)"/>
<rect x="423" y="0" width="1" height="21" fill="#fff"/><rect x="398" y="20" width="26" height="1" fill="#fff"/>
<rect x="559" y="0" width="24" height="20" fill="url(#dither)"/>
<rect x="583" y="0" width="1" height="21" fill="#fff"/><rect x="558" y="20" width="26" height="1" fill="#fff"/>
<rect x="1033" y="0" width="24" height="20" fill="url(#dither)"/>
<rect x="1057" y="0" width="1" height="21" fill="#fff"/><rect x="1032" y="20" width="26" height="1" fill="#fff"/>
<rect x="218" y="0" width="1" height="20" fill="#a0a0a0"/>
<rect x="275" y="0" width="1" height="20" fill="#a0a0a0"/>
<rect x="365" y="0" width="1" height="20" fill="#a0a0a0"/>
<rect x="370" y="0" width="1" height="20" fill="#a0a0a0"/>
<rect x="398" y="0" width="1" height="20" fill="#a0a0a0"/>
<rect x="427" y="0" width="1" height="20" fill="#a0a0a0"/>
<rect x="558" y="0" width="1" height="20" fill="#a0a0a0"/>
<rect x="615" y="0" width="1" height="20" fill="#a0a0a0"/>
<rect x="1032" y="0" width="1" height="20" fill="#a0a0a0"/>
<rect x="1115" y="0" width="1" height="20" fill="#a0a0a0"/>
</g>
<text x="-2.6" y="13" font-size="11.6" font-weight="500" textLength="12" lengthAdjust="spacingAndGlyphs" font-family='"Liberation Sans","Noto Sans CJK SC",sans-serif' fill="#000">单</text>
<text x="125.4" y="13" font-size="11.4" font-weight="500" textLength="47.2" lengthAdjust="spacingAndGlyphs" font-family='"Liberation Sans","Noto Sans CJK SC",sans-serif' fill="#000">自动交易</text>
<g>
<path d="M26.7,2.9 L37,11.3 L36.8,13.4 L28.6,18 L21,12.6 L21,11.5 Q24.6,8.6 25.6,4.6 Z" fill="#a86c0e"/>
<polygon points="28.5,15.7 36.4,11.5 36.5,13.1 28.7,17.4" fill="#f2e8b8"/>
<path d="M28.9,16.3 L36.4,12.2" stroke="#b8861c" stroke-width="0.5" fill="none"/>
<path d="M26.9,3.9 L36,11.1 L28.3,15.3 L22.2,11.4 Q25.4,8.8 26.2,5.2 Z" fill="url(#gGold)"/>
<path d="M26.6,5.4 Q26,8.6 23.4,11.2" stroke="#fdf2a0" stroke-width="0.9" fill="none" opacity="0.9"/>
<polygon points="22,11.9 28.3,15.7 28.4,17.1 21.7,12.7" fill="#d89a16"/>
</g>
<g>
<polygon points="51,3.2 54.5,2 62,2.4 62,11 51,11.5" fill="#1e9cf0"/>
<polygon points="51,3.2 54.6,4.6 54.6,12 51,11.5" fill="#0f7fe0"/>
<polygon points="55.2,5 61.4,4.6 61.4,11 55.2,11" fill="#e8f6ff"/>
<rect x="56" y="6" width="4.6" height="1.2" fill="#1e9cf0"/>
<rect x="56" y="8.4" width="3" height="1" fill="#1e9cf0"/>
<path d="M51.6,17.3 C49,17.3 48.6,14 51.2,13.4 C51,11.2 54.2,10.4 55.4,12 C56.6,9.6 60.6,10 60.8,12.4 C62.2,11.6 64,12.4 63.6,13.8 C65.8,14 65.8,17.3 63.2,17.3 Z" fill="url(#gCloud)" stroke="#4a6cae" stroke-width="0.9"/>
</g>
<g fill="none">
<path d="M85.5,9.8 L85.5,17.7 A7.9,7.9 0 0 0 93,9.8 A7.9,7.9 0 0 0 85.5,2 Z" fill="url(#gSig)"/>
<path d="M85.5,2.1 A7.7,7.7 0 0 1 85.5,17.6" stroke="#4f8f8f" stroke-width="0.8" opacity="0.7"/>
<path d="M85.5,4.7 A5.1,5.1 0 0 1 85.5,14.9" stroke="#7fb89a" stroke-width="0.8" opacity="0.6"/>
<path d="M85.5,17.5 A7.7,7.7 0 0 1 85.5,2.1" stroke="#5580d8" stroke-width="1" stroke-dasharray="2.2 0.9" opacity="0.85"/>
<path d="M85.5,14.9 A5.1,5.1 0 0 1 85.5,4.7" stroke="#5580d8" stroke-width="1" stroke-dasharray="2 0.8" opacity="0.8"/>
<circle cx="85" cy="9.8" r="2.9" stroke="#86a6e4" stroke-width="0.7" opacity="0.7"/>
<circle cx="84.9" cy="9.6" r="1.8" fill="#2a5cd0"/>
<rect x="84.9" y="10" width="1.3" height="7.7" fill="#1ea01e"/>
</g>
<g>
<polygon points="104.4,9.2 119.8,8.6 117,13 111.6,18.1 109.6,16.6" fill="#f6d43c" stroke="#c89818" stroke-width="0.7"/>
<polygon points="105.6,9.6 113,9.4 111,15.8" fill="#fdf08c"/>
<path d="M104.2,7.5 C104,5.4 106.8,5.3 108.3,6.1 C108.5,3.2 109.6,2 111.4,2 C113.6,2 114.6,3.4 115,5.5 C116.6,4.3 120.3,4 120.2,6.1 C120.1,8.3 115.4,9.4 112,9.4 C108,9.4 104.3,8.9 104.2,7.5 Z" fill="#5cb4e8" stroke="#1f85b8" stroke-width="0.7"/>
<path d="M108.4,6.2 C110,7.4 113.4,7 115,5.6" stroke="#2f8fc4" stroke-width="0.6" fill="none"/>
<path d="M109.6,4.6 C110,3.2 111,2.8 112,2.8" stroke="#bfe6fb" stroke-width="0.9" fill="none"/>
<circle cx="116.6" cy="13.6" r="4.2" fill="#e02408"/>
<circle cx="116.6" cy="13.6" r="4.2" fill="none" stroke="#b01804" stroke-width="0.7"/>
<rect x="115" y="12.1" width="3" height="2.9" fill="#fff"/>
</g>
<g stroke="#555" stroke-width="1" fill="#555" shape-rendering="crispEdges"><line x1="198.5" y1="5" x2="198.5" y2="18"/><line x1="196" y1="15.5" x2="209" y2="15.5"/></g><polygon points="198.5,3.8 196.6,6.6 200.4,6.6" fill="#555"/><polygon points="210.2,15.5 207.6,13.6 207.6,17.4" fill="#555"/>
<g stroke="#158a15" stroke-width="1.2" fill="none"><path d="M204.8,5 V13.6 M204.8,6.6 H207.2 M202.2,12.4 H204.8"/></g>
<g stroke="#555" stroke-width="1" fill="#555" shape-rendering="crispEdges"><line x1="226.5" y1="5" x2="226.5" y2="18"/><line x1="224" y1="15.5" x2="237" y2="15.5"/></g><polygon points="226.5,3.8 224.6,6.6 228.4,6.6" fill="#555"/><polygon points="238.2,15.5 235.6,13.6 235.6,17.4" fill="#555"/>
<line x1="232.5" y1="2" x2="232.5" y2="14" stroke="#0a8a0a" stroke-width="1.2"/>
<rect x="230.2" y="4.5" width="4.6" height="7.2" fill="url(#gCandle)" stroke="#0a8a0a" stroke-width="0.9"/>
<g stroke="#555" stroke-width="1" fill="#555" shape-rendering="crispEdges"><line x1="254.5" y1="5" x2="254.5" y2="18"/><line x1="252" y1="15.5" x2="265" y2="15.5"/></g><polygon points="254.5,3.8 252.6,6.6 256.4,6.6" fill="#555"/><polygon points="266.2,15.5 263.6,13.6 263.6,17.4" fill="#555"/>
<path d="M253.2,12.6 C256,10.4 257.6,7 259.4,7.1 C261,7.2 262.6,10 264.8,11.2" fill="none" stroke="#2a9a2a" stroke-width="1.2"/>
<line x1="293.4" y1="12.3" x2="298.8" y2="16.5" stroke="#a87c10" stroke-width="3.6" stroke-linecap="butt"/><line x1="293.4" y1="12.3" x2="298.4" y2="16.2" stroke="#f2d230" stroke-width="2.2" stroke-linecap="butt"/><circle cx="290" cy="8" r="5.6" fill="url(#gLens)" stroke="#3a7cd0" stroke-width="1.1"/><rect x="287" y="7.2" width="6" height="1.6" fill="#4a8cc0"/><rect x="289.2" y="5" width="1.6" height="6" fill="#4a8cc0"/>
<line x1="321.4" y1="12.3" x2="326.8" y2="16.5" stroke="#a87c10" stroke-width="3.6" stroke-linecap="butt"/><line x1="321.4" y1="12.3" x2="326.4" y2="16.2" stroke="#f2d230" stroke-width="2.2" stroke-linecap="butt"/><circle cx="318" cy="8" r="5.6" fill="url(#gLens)" stroke="#3a7cd0" stroke-width="1.1"/><rect x="315" y="7.2" width="6" height="1.6" fill="#4a8cc0"/>
<g shape-rendering="crispEdges"><rect x="340" y="2" width="8" height="8" fill="#3aa31e"/><rect x="340" y="2" width="8" height="2.4" fill="#2d8a14"/></g><path d="M341.1,9.2 V5.4 H346.9 V9.2 H345.7 V8.3 H342.3 V9.2 Z" fill="#fff"/><rect x="342.1" y="6.4" width="3.8" height="0.8" fill="#3aa31e" opacity="0.45"/><rect x="340.8" y="2.8" width="1" height="1" fill="#fff" opacity="0.85"/>
<g shape-rendering="crispEdges"><rect x="348" y="2" width="8" height="8" fill="#2458d8"/><rect x="348" y="2" width="8" height="2.4" fill="#1238b0"/></g><path d="M349.1,9.2 V5.4 H354.9 V9.2 H353.7 V8.3 H350.3 V9.2 Z" fill="#fff"/><rect x="350.1" y="6.4" width="3.8" height="0.8" fill="#2458d8" opacity="0.45"/><rect x="348.8" y="2.8" width="1" height="1" fill="#fff" opacity="0.85"/>
<g shape-rendering="crispEdges"><rect x="340" y="10" width="8" height="8" fill="#2458d8"/><rect x="340" y="10" width="8" height="2.4" fill="#1238b0"/></g><path d="M341.1,17.2 V13.4 H346.9 V17.2 H345.7 V16.3 H342.3 V17.2 Z" fill="#fff"/><rect x="342.1" y="14.4" width="3.8" height="0.8" fill="#2458d8" opacity="0.45"/><rect x="340.8" y="10.8" width="1" height="1" fill="#fff" opacity="0.85"/>
<g shape-rendering="crispEdges"><rect x="348" y="10" width="8" height="8" fill="#3aa31e"/><rect x="348" y="10" width="8" height="2.4" fill="#2d8a14"/></g><path d="M349.1,17.2 V13.4 H354.9 V17.2 H353.7 V16.3 H350.3 V17.2 Z" fill="#fff"/><rect x="350.1" y="14.4" width="3.8" height="0.8" fill="#3aa31e" opacity="0.45"/><rect x="348.8" y="10.8" width="1" height="1" fill="#fff" opacity="0.85"/>
<g stroke="#555" stroke-width="1" fill="#555" shape-rendering="crispEdges"><line x1="378.5" y1="5" x2="378.5" y2="18"/><line x1="376" y1="15.5" x2="389" y2="15.5"/></g><polygon points="378.5,3.8 376.6,6.6 380.4,6.6" fill="#555"/><polygon points="390.2,15.5 387.6,13.6 387.6,17.4" fill="#555"/>
<polygon points="383.4,6.2 387.2,9.5 383.4,12.8" fill="#8ee88e" stroke="#18a018" stroke-width="1"/>
<g stroke="#555" stroke-width="1" fill="#555" shape-rendering="crispEdges"><line x1="406.5" y1="5" x2="406.5" y2="18"/><line x1="404" y1="15.5" x2="417" y2="15.5"/></g><polygon points="406.5,3.8 404.6,6.6 408.4,6.6" fill="#555"/><polygon points="418.2,15.5 415.6,13.6 415.6,17.4" fill="#555"/>
<line x1="412.5" y1="4" x2="412.5" y2="14" stroke="#2070b0" stroke-width="1.3"/>
<polygon points="413.3,9.5 416,7.4 415.7,9 417.8,9 417.8,10 415.7,10 416,11.6" fill="#e85000" stroke="#b83800" stroke-width="0.5"/>
<path d="M437.5,2.8 H445.2 L448.4,6 V15.4 H437.5 Z" fill="#fdfdfd" stroke="#8a8a8a" stroke-width="1"/>
<path d="M445.2,2.8 V6 H448.4" fill="#e4e4e4" stroke="#8a8a8a" stroke-width="0.8"/>
<path d="M441.6,5.4 H440.4 V12.6 H441.6 M440.4,9 H441.6" fill="none" stroke="#555" stroke-width="0.9"/>
<path d="M445,8 H448.8 V12 H452.8 V15.8 H448.8 V19.8 H445 V15.8 H441 V12 H445 Z" fill="url(#gPlus)" stroke="#0a8a0a" stroke-width="0.9"/>
<polygon points="458.5,9.3 464.5,9.3 461.5,12.4" fill="#000"/>
<circle cx="483" cy="10" r="8" fill="url(#gClock)"/>
<circle cx="483" cy="10" r="5.6" fill="#fbfdff"/>
<circle cx="483" cy="10" r="7.8" fill="none" stroke="#0a48a0" stroke-width="0.5"/>
<path d="M482.8,6 V10.2 H485.6" fill="none" stroke="#111" stroke-width="1.1"/>
<g fill="#666"><rect x="482.6" y="5" width="0.8" height="0.8"/><rect x="482.6" y="14.2" width="0.8" height="0.8" fill="#39f"/><rect x="478.2" y="9.6" width="0.8" height="0.8"/><rect x="487" y="9.6" width="0.8" height="0.8"/></g>
<polygon points="497.5,9.3 503.5,9.3 500.5,12.4" fill="#000"/>
<g shape-rendering="crispEdges"><rect x="514" y="3" width="16" height="14" fill="#3a78c8"/><rect x="515" y="5" width="14" height="11" fill="#fff"/><rect x="514" y="3" width="16" height="1" fill="#2a5cb0"/><rect x="515" y="4" width="6" height="1" fill="#9cc4f0"/><rect x="515" y="11" width="14" height="1" fill="#3a78c8"/></g>
<path d="M516.4,9.4 L518.4,9 L520.2,7.8 L522,8.6 L524,8.4 L525.6,7.4 L527.6,7.2" fill="none" stroke="#a02010" stroke-width="1.2"/>
<path d="M517,14.6 L518.8,13.8 L520.4,14.4 L522.2,14 L524.4,12.6 L526,13.4 L527.6,14.6" fill="none" stroke="#188a18" stroke-width="1.2"/>
<polygon points="536.5,9.3 542.5,9.3 539.5,12.4" fill="#000"/>
<polygon points="566,3 566,14.4 568.8,11.8 571.4,17.2 573.4,16.2 570.8,11 574.2,10.8" fill="#505050"/>
<g shape-rendering="crispEdges" fill="#505050"><rect x="598" y="3" width="1" height="6"/><rect x="598" y="12" width="1" height="6"/><rect x="591" y="10" width="6" height="1"/><rect x="600" y="10" width="6" height="1"/><rect x="598" y="10" width="1" height="1" opacity="0.5"/></g>
<g shape-rendering="crispEdges" fill="#505050"><rect x="632" y="4" width="1" height="13"/><rect x="655" y="10" width="12" height="1"/></g>
<line x1="683" y1="16.8" x2="695" y2="4.8" stroke="#505050" stroke-width="1.1"/>
<g stroke="#505050" stroke-width="1" fill="none"><path d="M708.8,11.4 L720.6,2.6 M709.6,14.6 L722,5.4 M711.6,16.4 L722.4,8.4"/><path d="M712.2,8 L713.4,15.4 M715.2,6 L716.4,13.2 M718.2,3.6 L719.4,11 M721,2 L721.8,8.6" stroke-width="0.9"/></g>
<text x="719.6" y="18.6" font-size="6.5" font-weight="bold" fill="#404040">E</text>
<g stroke="#505050" stroke-width="1" stroke-dasharray="1 1" shape-rendering="crispEdges"><line x1="738" y1="3.5" x2="751" y2="3.5"/><line x1="738" y1="6.5" x2="751" y2="6.5"/><line x1="738" y1="10.5" x2="751" y2="10.5"/><line x1="738" y1="14.5" x2="747" y2="14.5"/></g>
<text x="747.6" y="18.6" font-size="6.5" font-weight="bold" fill="#404040">F</text>
<text x="768.8" y="15.2" font-size="12.4" fill="#505050" stroke="#505050" stroke-width="0.4" textLength="7.8" lengthAdjust="spacingAndGlyphs">A</text>
<rect x="795.5" y="4.5" width="11" height="12" fill="none" stroke="#505050" stroke-width="1" stroke-dasharray="1 1" shape-rendering="crispEdges"/>
<rect x="794.5" y="3.6" width="2" height="1.4" fill="#505050"/>
<path d="M797.2,7.4 H804.6 V8.9 H801.7 V14.6 H800.1 V8.9 H797.2 Z" fill="#505050"/>
<polygon points="826,3.6 829.4,6.6 826,8.6 822.6,6.6" fill="#505050"/>
<polygon points="832.4,16.6 829,13.6 832.4,11.4 835.8,13.6" fill="#505050"/>
<path d="M825.4,10.8 L827.2,12.6 L831.4,7.4" fill="none" stroke="#505050" stroke-width="1.2"/>
<polygon points="842.5,9.3 848.5,9.3 845.5,12.4" fill="#000"/>
<text x="869.4" y="13.9" font-size="9.5" fill="#303030" stroke="#303030" stroke-width="0.15" textLength="13" lengthAdjust="spacingAndGlyphs">M1</text>
<text x="897.3" y="13.9" font-size="9.5" fill="#303030" stroke="#303030" stroke-width="0.15" textLength="13.2" lengthAdjust="spacingAndGlyphs">M5</text>
<text x="923.1" y="13.9" font-size="9.5" fill="#303030" stroke="#303030" stroke-width="0.15" textLength="18.3" lengthAdjust="spacingAndGlyphs">M15</text>
<text x="951.3" y="13.9" font-size="9.5" fill="#303030" stroke="#303030" stroke-width="0.15" textLength="18.3" lengthAdjust="spacingAndGlyphs">M30</text>
<text x="982.6" y="13.9" font-size="9.5" fill="#303030" stroke="#303030" stroke-width="0.15" textLength="12" lengthAdjust="spacingAndGlyphs">H1</text>
<text x="1009.5" y="13.9" font-size="9.5" fill="#303030" stroke="#303030" stroke-width="0.15" textLength="12.6" lengthAdjust="spacingAndGlyphs">H4</text>
<text x="1038.6" y="13.9" font-size="9.5" fill="#303030" stroke="#303030" stroke-width="0.15" textLength="12" lengthAdjust="spacingAndGlyphs">D1</text>
<text x="1065.8" y="13.9" font-size="9.5" fill="#303030" stroke="#303030" stroke-width="0.15" textLength="14.6" lengthAdjust="spacingAndGlyphs">W1</text>
<text x="1092.6" y="13.9" font-size="9.5" fill="#303030" stroke="#303030" stroke-width="0.15" textLength="14.6" lengthAdjust="spacingAndGlyphs">MN</text>
<line x1="1582.4" y1="10.6" x2="1578.2" y2="14.8" stroke="#1c50d0" stroke-width="2.4" stroke-linecap="round"/>
<circle cx="1585.6" cy="7.5" r="4" fill="#fdfdff" stroke="#2456d8" stroke-width="1.2"/>
<path d="M1621.4,11.2 L1622,13.6 L1619.4,11.5 Z" fill="#8a8a8a"/>
<ellipse cx="1618" cy="6.9" rx="6.4" ry="4.7" fill="url(#gBub)" stroke="#9a9a9a" stroke-width="0.8"/>
<path d="M1606.2,13.8 L1606,16.8 L1609,14.4 Z" fill="#8a8a8a"/>
<ellipse cx="1609.3" cy="11" rx="4.9" ry="3.7" fill="url(#gBub)" stroke="#8a8a8a" stroke-width="0.8"/>
</svg>
<svg id="panel" width="222" height="68" viewBox="0 45 222 68" style="position:absolute;left:0;top:45px" font-family='"Liberation Sans", sans-serif'>
<defs><linearGradient id="gBlue" gradientUnits="userSpaceOnUse" x1="0" y1="46" x2="0" y2="110"><stop offset="0" stop-color="#5a5aff"/><stop offset="0.4" stop-color="#3838e0"/><stop offset="1" stop-color="#0000aa"/></linearGradient></defs>
<g shape-rendering="crispEdges">
<rect x="0" y="45" width="221" height="67" fill="#fff"/>
<rect x="0" y="46" width="52" height="25" fill="url(#gBlue)"/>
<rect x="0" y="70" width="109" height="40" fill="url(#gBlue)"/>
<rect x="0" y="46" width="52" height="1" fill="#2020d0"/><rect x="51" y="46" width="1" height="24" fill="#2020d0"/><rect x="108" y="70" width="1" height="40" fill="#0000b0"/><rect x="52" y="70" width="57" height="1" fill="#2020c8"/><rect x="0" y="109" width="109" height="1" fill="#0000a0"/>
<rect x="4" y="69" width="44" height="2" fill="#8080f8"/>
<rect x="167" y="46" width="52" height="25" fill="url(#gBlue)"/>
<rect x="111" y="70" width="108" height="40" fill="url(#gBlue)"/>
<rect x="167" y="46" width="52" height="1" fill="#2020d0"/><rect x="167" y="46" width="1" height="24" fill="#2020d0"/><rect x="218" y="46" width="1" height="64" fill="#1010b8"/><rect x="111" y="70" width="1" height="40" fill="#1010c0"/><rect x="111" y="70" width="57" height="1" fill="#2020c8"/><rect x="111" y="109" width="108" height="1" fill="#0000a0"/>
<rect x="171" y="69" width="44" height="2" fill="#8080f8"/>
<rect x="54" y="46" width="111" height="22" fill="#a8a8a8"/>
<rect x="55" y="47" width="20" height="20" fill="#e8e8e8"/>
<rect x="76" y="47" width="67" height="20" fill="#fff"/>
<rect x="144" y="47" width="20" height="20" fill="#e8e8e8"/>
</g>
<polygon points="62,55 67.4,55 64.7,58.2" fill="#000"/>
<polygon points="150.6,58.4 156.2,58.4 153.4,55.2" fill="#000"/>
<text x="116.2" y="61" font-size="12" fill="#202020" textLength="23.2" lengthAdjust="spacingAndGlyphs">0.10</text>
<text x="12.6" y="62" font-size="12" fill="#fff" textLength="25.4" lengthAdjust="spacingAndGlyphs">SELL</text>
<text x="180.6" y="62" font-size="12" fill="#fff" textLength="23.4" lengthAdjust="spacingAndGlyphs">BUY</text>
<text x="23.6" y="101" font-size="12.4" font-weight="bold" fill="#fff" textLength="19.8" lengthAdjust="spacingAndGlyphs">111</text>
<text x="47.2" y="101" font-size="33.4" fill="#fff" textLength="36.4" lengthAdjust="spacingAndGlyphs">04</text>
<text x="87" y="85" font-size="12.4" font-weight="bold" fill="#fff">9</text>
<text x="133.4" y="101" font-size="12.4" font-weight="bold" fill="#fff" textLength="19.8" lengthAdjust="spacingAndGlyphs">111</text>
<text x="157.4" y="101" font-size="33.4" fill="#fff" textLength="36.4" lengthAdjust="spacingAndGlyphs">07</text>
<text x="197.6" y="85" font-size="12.4" font-weight="bold" fill="#fff">1</text>
</svg>
</body></html>
